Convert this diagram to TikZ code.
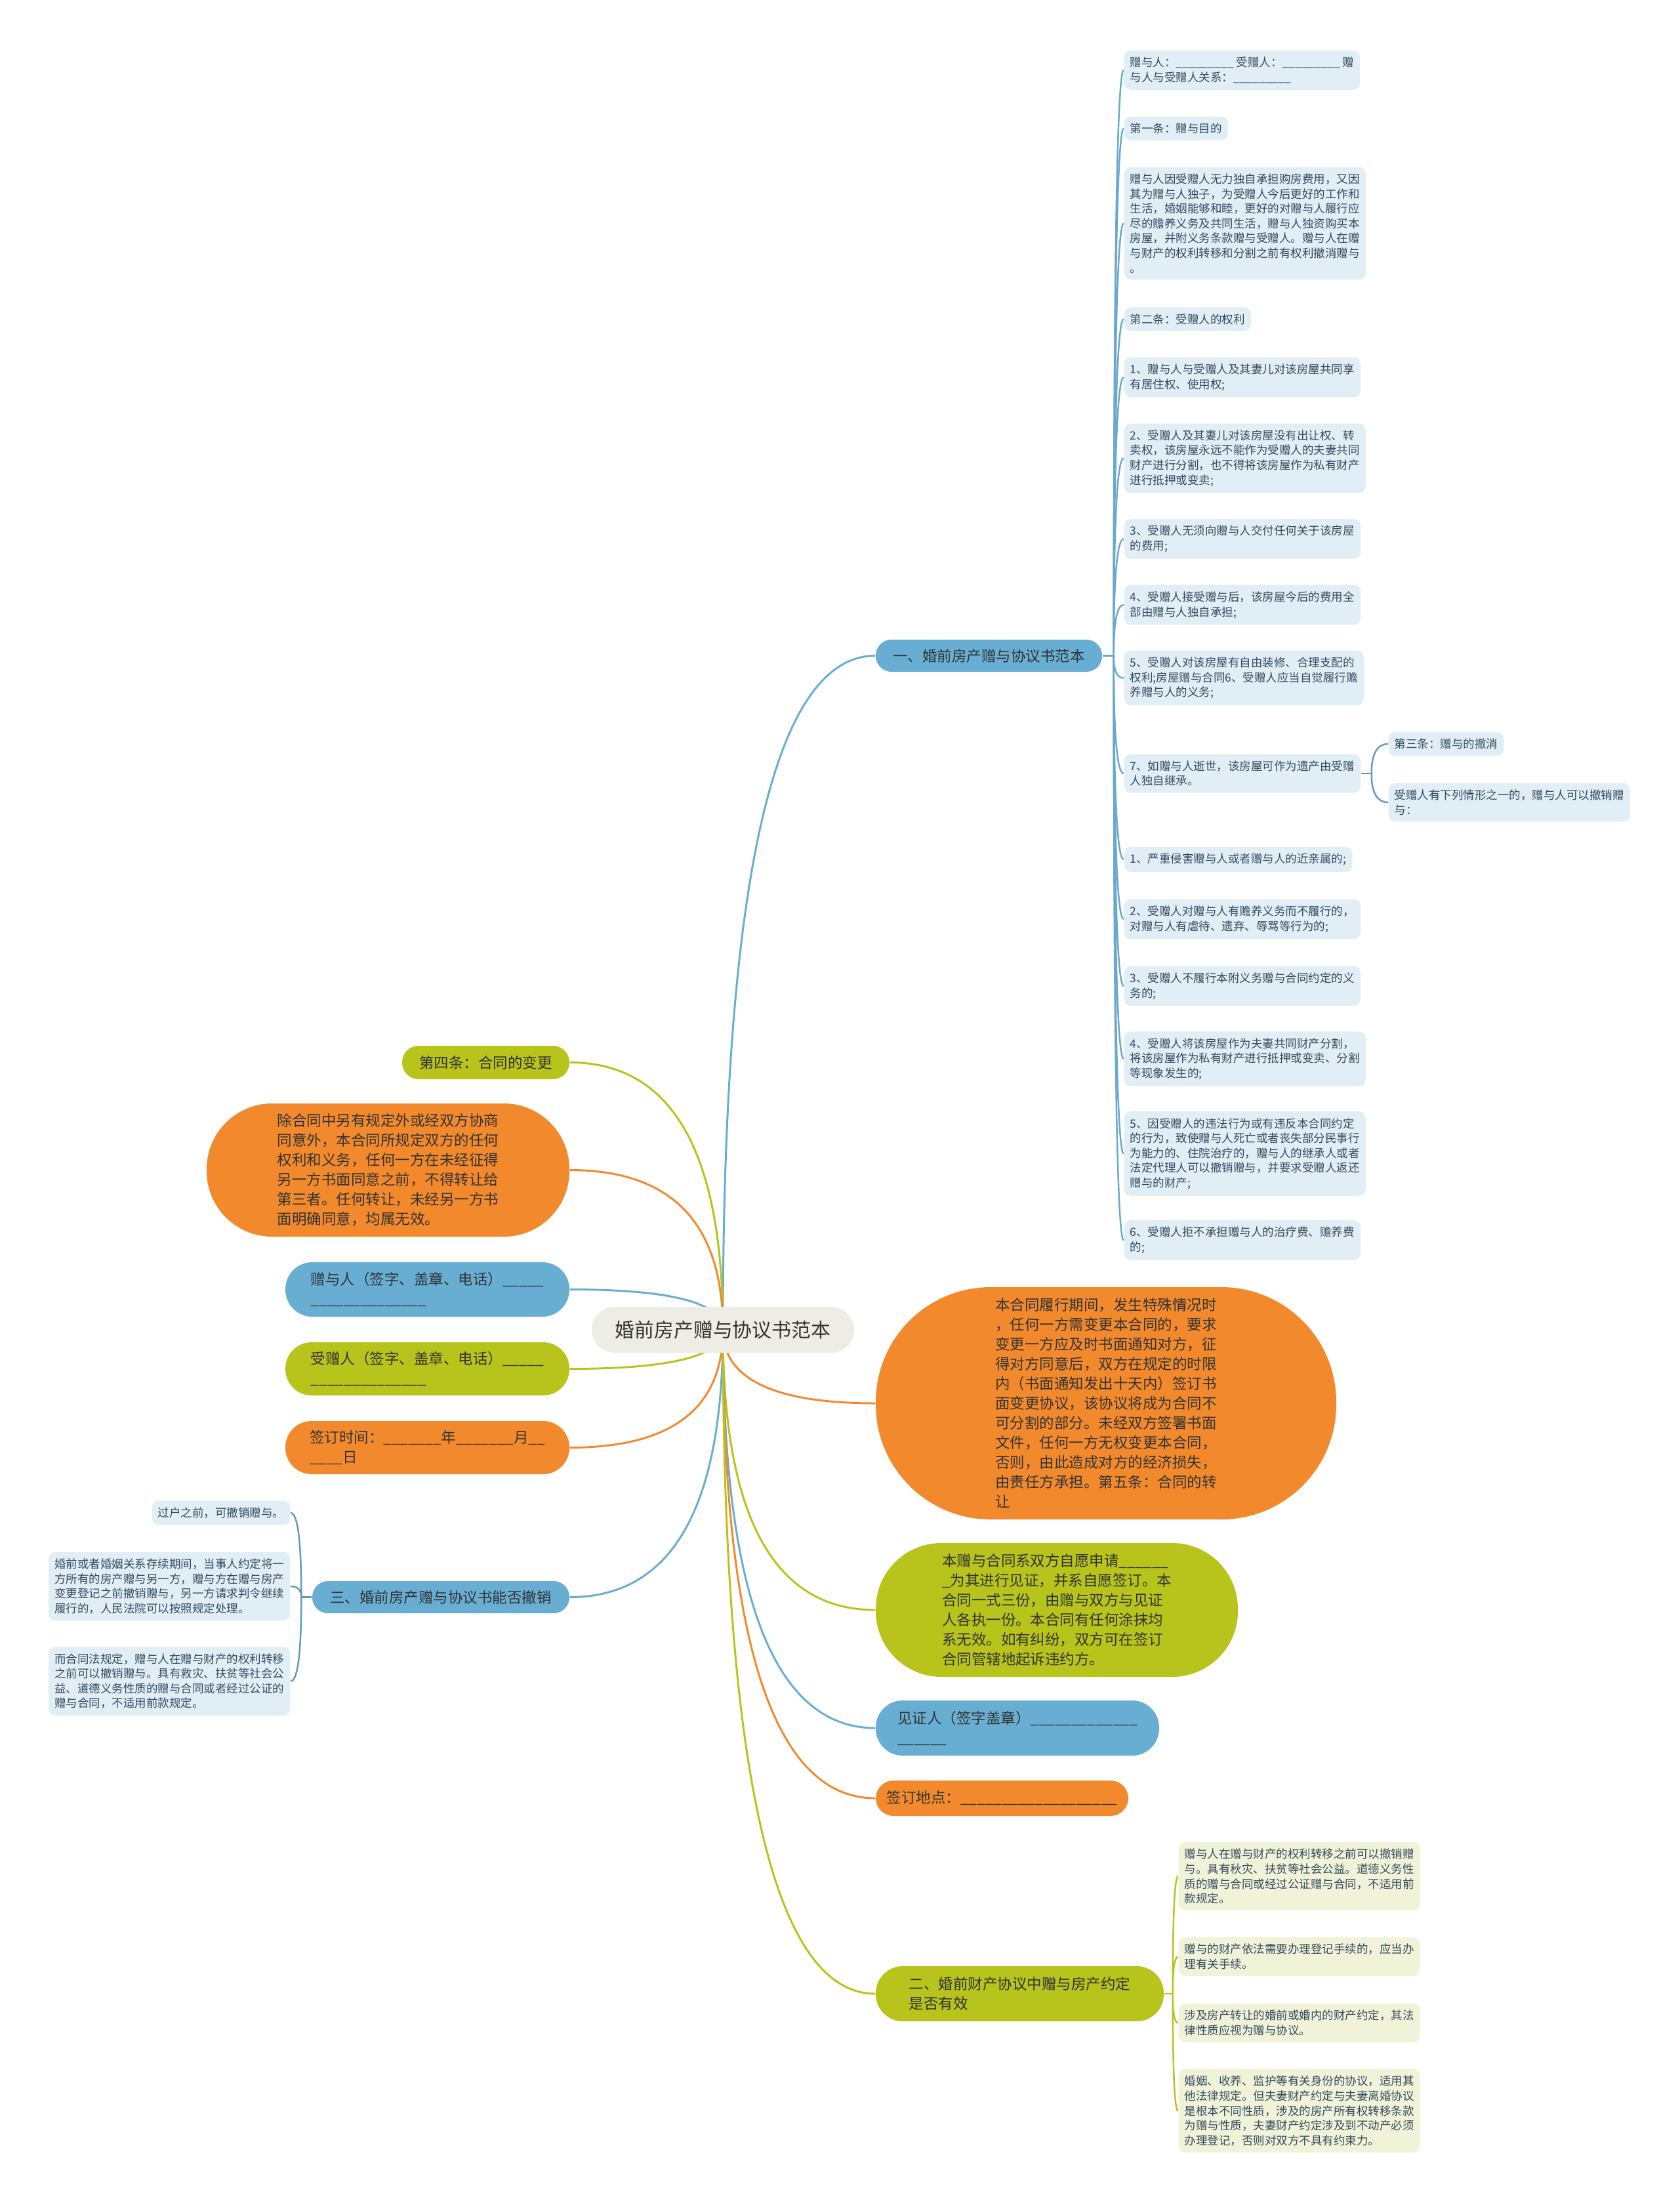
\documentclass[tikz,border=0pt]{standalone}
\usepackage{fontspec}
\setmainfont{Noto Sans CJK SC}
\usepackage{tikz}
\usetikzlibrary{calc,backgrounds}
\definecolor{mapblue}{HTML}{67AED2}
\definecolor{mapgreen}{HTML}{B8C31B}
\definecolor{maporange}{HTML}{F28A2D}
\definecolor{maproot}{HTML}{EDEDE6}
\definecolor{leafblue}{HTML}{E1EEF6}
\definecolor{leafgreen}{HTML}{F1F3D9}
\definecolor{linkblue}{HTML}{6AA8CD}
\definecolor{linksteel}{HTML}{6399BC}
\definecolor{leaftext}{HTML}{34495E}
\definecolor{maptext}{HTML}{333333}
\newcommand{\blanks}[1]{\foreach\k in {1,...,#1}{\_}}

\begin{document}
\begin{tikzpicture}[
  leaf/.style={fill=leafblue,rounded corners=1mm,align=left,inner xsep=0.9mm,inner ysep=1mm,text=leaftext,font={\fontsize{4.98pt}{6.43pt}\selectfont}},
  pill/.style={align=left,inner sep=0pt,text=maptext,font={\fontsize{6.4pt}{8.53pt}\selectfont}},
  link/.style={line width=0.85pt,to path={.. controls ($(\tikztostart)!2/3!(\tikztostart|-\tikztotarget)$) and ($(\tikztotarget)!2/3!(\tikztostart|-\tikztotarget)$) .. (\tikztotarget)}},
  twig/.style={link,line width=0.7pt}
]
\useasboundingbox (0,0) rectangle (25.6,-33.58);

% centre
\node[pill,fill=maproot,minimum width=4cm,minimum height=0.7cm,rounded corners=0.35cm,font={\fontsize{8.5pt}{10pt}\selectfont}] (root) at (11.02,-20.27) {婚前房产赠与协议书范本};

% left side
\node[pill,fill=mapgreen,minimum width=2.55cm,minimum height=0.51cm,rounded corners=0.25cm] (l1) at (7.405,-16.195) {第四条：合同的变更};
\node[pill,fill=maporange,minimum width=5.53cm,minimum height=2.03cm,rounded corners=1cm] (l2) at (5.915,-17.835) {除合同中另有规定外或经双方协商\\同意外，本合同所规定双方的任何\\权利和义务，任何一方在未经征得\\另一方书面同意之前，不得转让给\\第三者。任何转让，未经另一方书\\面明确同意，均属无效。};
\node[pill,fill=mapblue,minimum width=4.33cm,minimum height=0.83cm,rounded corners=0.41cm] (l3) at (6.515,-19.655) {赠与人（签字、盖章、电话）\blanks{5}\\\blanks{14}};
\node[pill,fill=mapgreen,minimum width=4.33cm,minimum height=0.81cm,rounded corners=0.4cm] (l4) at (6.515,-20.865) {受赠人（签字、盖章、电话）\blanks{5}\\\blanks{14}};
\node[pill,fill=maporange,minimum width=4.33cm,minimum height=0.81cm,rounded corners=0.4cm] (l5) at (6.515,-22.065) {签订时间：\blanks{7}年\blanks{7}月\blanks{2}\\\blanks{4}日};
\node[pill,fill=mapblue,minimum width=3.92cm,minimum height=0.49cm,rounded corners=0.24cm] (l6) at (6.72,-24.345) {三、婚前房产赠与协议书能否撤销};

\node[leaf,anchor=east] (m1) at (4.43,-23.06) {过户之前，可撤销赠与。};
\node[leaf,anchor=east] (m2) at (4.43,-24.18) {婚前或者婚姻关系存续期间，当事人约定将一\\方所有的房产赠与另一方，赠与方在赠与房产\\变更登记之前撤销赠与，另一方请求判令继续\\履行的，人民法院可以按照规定处理。};
\node[leaf,anchor=east] (m3) at (4.43,-25.625) {而合同法规定，赠与人在赠与财产的权利转移\\之前可以撤销赠与。具有救灾、扶贫等社会公\\益、道德义务性质的赠与合同或者经过公证的\\赠与合同，不适用前款规定。};

% right side
\node[pill,fill=mapblue,minimum width=3.45cm,minimum height=0.49cm,rounded corners=0.24cm] (b1) at (15.075,-9.995) {一、婚前房产赠与协议书范本};
\node[pill,fill=maporange,minimum width=7.02cm,minimum height=3.54cm,rounded corners=1.75cm] (r1) at (16.86,-21.39) {本合同履行期间，发生特殊情况时\\，任何一方需变更本合同的，要求\\变更一方应及时书面通知对方，征\\得对方同意后，双方在规定的时限\\内（书面通知发出十天内）签订书\\面变更协议，该协议将成为合同不\\可分割的部分。未经双方签署书面\\文件，任何一方无权变更本合同，\\否则，由此造成对方的经济损失，\\由责任方承担。第五条：合同的转\\让};
\node[pill,fill=mapgreen,minimum width=5.52cm,minimum height=2.04cm,rounded corners=1cm] (r2) at (16.11,-24.54) {本赠与合同系双方自愿申请\blanks{6}\\\_为其进行见证，并系自愿签订。本\\合同一式三份，由赠与双方与见证\\人各执一份。本合同有任何涂抹均\\系无效。如有纠纷，双方可在签订\\合同管辖地起诉违约方。};
\node[pill,fill=mapblue,minimum width=4.32cm,minimum height=0.84cm,rounded corners=0.41cm] (r3) at (15.51,-26.34) {见证人（签字盖章）\blanks{13}\\\blanks{6}};
\node[pill,fill=maporange,minimum width=3.85cm,minimum height=0.54cm,rounded corners=0.27cm] (r4) at (15.275,-27.41) {签订地点：\blanks{19}};
\node[pill,fill=mapgreen,minimum width=4.39cm,minimum height=0.84cm,rounded corners=0.41cm] (r5) at (15.545,-30.39) {二、婚前财产协议中赠与房产约定\\是否有效};

% leaves of b1
\node[leaf,anchor=west] (a1) at (17.13,-1.07) {赠与人：\blanks{9} 受赠人：\blanks{9} 赠\\与人与受赠人关系：\blanks{9}};
\node[leaf,anchor=west] (a2) at (17.13,-1.96) {第一条：赠与目的};
\node[leaf,anchor=west] (a3) at (17.13,-3.405) {赠与人因受赠人无力独自承担购房费用，又因\\其为赠与人独子，为受赠人今后更好的工作和\\生活，婚姻能够和睦，更好的对赠与人履行应\\尽的赡养义务及共同生活，赠与人独资购买本\\房屋，并附义务条款赠与受赠人。赠与人在赠\\与财产的权利转移和分割之前有权利撤消赠与\\。};
\node[leaf,anchor=west] (a4) at (17.13,-4.865) {第二条：受赠人的权利};
\node[leaf,anchor=west] (a5) at (17.13,-5.75) {1、赠与人与受赠人及其妻儿对该房屋共同享\\有居住权、使用权;};
\node[leaf,anchor=west] (a6) at (17.13,-6.985) {2、受赠人及其妻儿对该房屋没有出让权、转\\卖权，该房屋永远不能作为受赠人的夫妻共同\\财产进行分割，也不得将该房屋作为私有财产\\进行抵押或变卖;};
\node[leaf,anchor=west] (a7) at (17.13,-8.215) {3、受赠人无须向赠与人交付任何关于该房屋\\的费用;};
\node[leaf,anchor=west] (a8) at (17.13,-9.22) {4、受赠人接受赠与后，该房屋今后的费用全\\部由赠与人独自承担;};
\node[leaf,anchor=west] (a9) at (17.13,-10.335) {5、受赠人对该房屋有自由装修、合理支配的\\权利;房屋赠与合同6、受赠人应当自觉履行赡\\养赠与人的义务;};
\node[leaf,anchor=west] (a10) at (17.13,-11.79) {7、如赠与人逝世，该房屋可作为遗产由受赠\\人独自继承。};
\node[leaf,anchor=west] (d1) at (21.16,-11.34) {第三条：赠与的撤消};
\node[leaf,anchor=west] (d2) at (21.16,-12.23) {受赠人有下列情形之一的，赠与人可以撤销赠\\与：};
\node[leaf,anchor=west] (a11) at (17.13,-13.10) {1、严重侵害赠与人或者赠与人的近亲属的;};
\node[leaf,anchor=west] (a12) at (17.13,-14.01) {2、受赠人对赠与人有赡养义务而不履行的，\\对赠与人有虐待、遗弃、辱骂等行为的;};
\node[leaf,anchor=west] (a13) at (17.13,-15.03) {3、受赠人不履行本附义务赠与合同约定的义\\务的;};
\node[leaf,anchor=west] (a14) at (17.13,-16.14) {4、受赠人将该房屋作为夫妻共同财产分割，\\将该房屋作为私有财产进行抵押或变卖、分割\\等现象发生的;};
\node[leaf,anchor=west] (a15) at (17.13,-17.585) {5、因受赠人的违法行为或有违反本合同约定\\的行为，致使赠与人死亡或者丧失部分民事行\\为能力的、住院治疗的，赠与人的继承人或者\\法定代理人可以撤销赠与，并要求受赠人返还\\赠与的财产;};
\node[leaf,anchor=west] (a16) at (17.13,-18.905) {6、受赠人拒不承担赠与人的治疗费、赡养费\\的;};

% leaves of r5
\node[leaf,fill=leafgreen,anchor=west] (c1) at (17.96,-28.60) {赠与人在赠与财产的权利转移之前可以撤销赠\\与。具有秋灾、扶贫等社会公益。道德义务性\\质的赠与合同或经过公证赠与合同，不适用前\\款规定。};
\node[leaf,fill=leafgreen,anchor=west] (c2) at (17.96,-29.825) {赠与的财产依法需要办理登记手续的，应当办\\理有关手续。};
\node[leaf,fill=leafgreen,anchor=west] (c3) at (17.96,-30.835) {涉及房产转让的婚前或婚内的财产约定，其法\\律性质应视为赠与协议。};
\node[leaf,fill=leafgreen,anchor=west] (c4) at (17.96,-32.175) {婚姻、收养、监护等有关身份的协议，适用其\\他法律规定。但夫妻财产约定与夫妻离婚协议\\是根本不同性质，涉及的房产所有权转移条款\\为赠与性质，夫妻财产约定涉及到不动产必须\\办理登记，否则对双方不具有约束力。};

% joints
\coordinate (j1) at ($(b1.east)+(0.17,0)$);
\coordinate (j2) at ($(a10.east)+(0.16,0)$);
\coordinate (j3) at ($(l6.west)+(-0.16,0)$);
\coordinate (j4) at ($(r5.east)+(0.13,0)$);

\begin{scope}[on background layer]
\draw[link,mapblue] (root.center) to (b1.west);
\draw[link,mapgreen] (root.center) to (l1.east);
\draw[link,maporange] (root.center) to (l2.east);
\draw[link,mapblue] (root.center) to (l3.east);
\draw[link,mapgreen] (root.center) to (l4.east);
\draw[link,maporange] (root.center) to (l5.east);
\draw[link,mapblue] (root.center) to (l6.east);
\draw[link,maporange] (root.center) to (r1.west);
\draw[link,mapgreen] (root.center) to (r2.west);
\draw[link,mapblue] (root.center) to (r3.west);
\draw[link,maporange] (root.center) to (r4.west);
\draw[link,mapgreen] (root.center) to (r5.west);
\end{scope}

\draw[twig,linkblue] (b1.east) -- (j1);
\foreach \n in {a1,a2,a3,a4,a5,a6,a7,a8,a9,a10,a11,a12,a13,a14,a15,a16}
  \draw[twig,linkblue] (j1) to (\n.west);
\draw[twig,linksteel] (a10.east) -- (j2);
\draw[twig,linksteel] (j2) to (d1.west);
\draw[twig,linksteel] (j2) to (d2.west);
\draw[twig,linksteel] (l6.west) -- (j3);
\foreach \n in {m1,m2,m3}
  \draw[twig,linksteel] (j3) to (\n.east);
\draw[twig,mapgreen] (r5.east) -- (j4);
\foreach \n in {c1,c2,c3,c4}
  \draw[twig,mapgreen] (j4) to (\n.west);
\end{tikzpicture}
\end{document}
